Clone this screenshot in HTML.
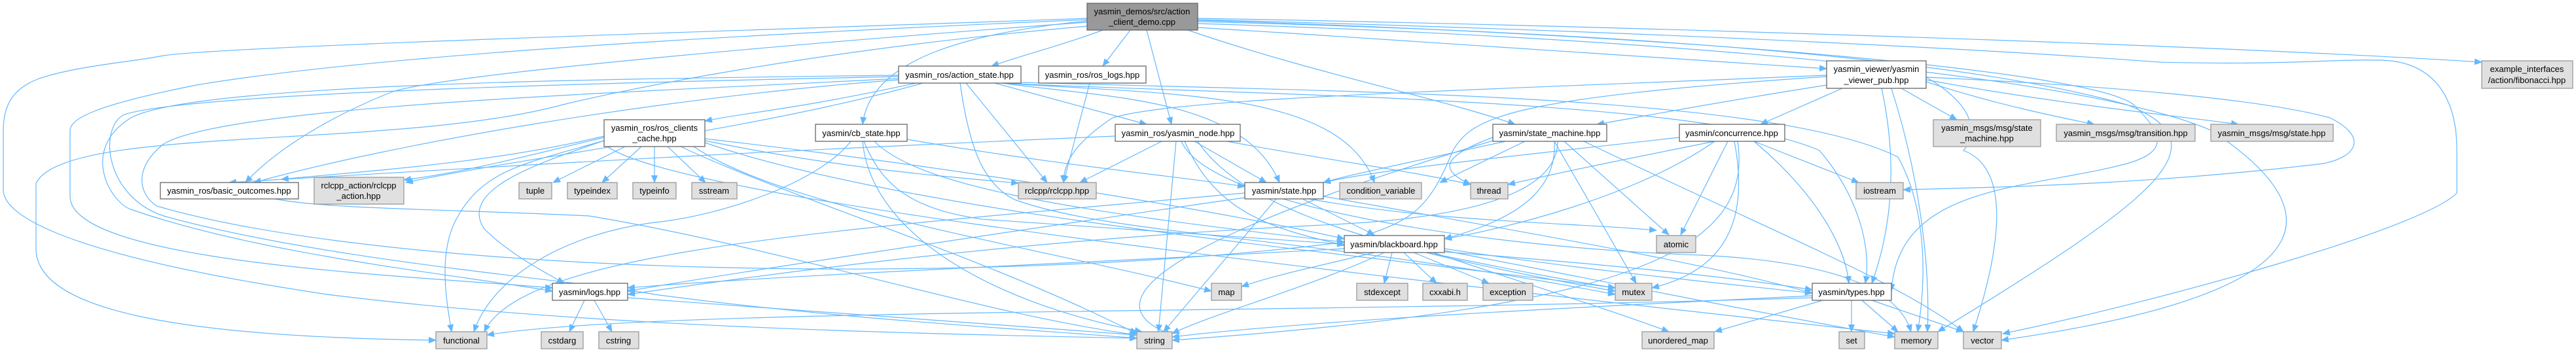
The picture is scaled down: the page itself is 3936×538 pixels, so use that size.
<!DOCTYPE html>
<html><head><meta charset="utf-8"><style>
html,body{margin:0;padding:0;background:#fff;}
svg{display:block;}
text{font-family:"Liberation Sans",sans-serif;font-size:13px;fill:#000;text-anchor:middle;}
.e path{fill:none;stroke:#63b8ff;stroke-width:1.2;}
.n{fill:#fff;stroke:#666;stroke-width:1.3;}
.s{fill:#e0e0e0;stroke:#999;stroke-width:1.3;}
.m{fill:#999;stroke:#666;stroke-width:1.3;}
</style></head><body>
<svg width="3936" height="538" viewBox="0 0 3936 538" xmlns="http://www.w3.org/2000/svg">
<defs><marker id="a" markerWidth="12" markerHeight="10" refX="11" refY="5" orient="auto" markerUnits="userSpaceOnUse"><path d="M0,0 L12,5 L0,10 z" fill="#63b8ff"/></marker></defs>
<g class="e">
<path d="M1685,46 C1620,70 1560,85 1515,101" marker-end="url(#a)"/>
<path d="M1727,46 L1685,101" marker-end="url(#a)"/>
<path d="M1752,46 L1790,190" marker-end="url(#a)"/>
<path d="M1661,32 C1480,50 1330,90 1318,190" marker-end="url(#a)"/>
<path d="M1815,46 C2000,110 2200,150 2315,190" marker-end="url(#a)"/>
<path d="M1830,42 C2200,65 2600,90 2791,105" marker-end="url(#a)"/>
<path d="M1830,28 C2500,40 3400,70 3792,95" marker-end="url(#a)"/>
<path d="M1830,30 C2600,50 3100,80 3300,95 C3500,100 3560,90 3640,92 C3720,95 3754,150 3754,230 L3754,295 C3700,350 3300,460 3060,510" marker-end="url(#a)"/>
<path d="M1830,33 C2500,50 3000,90 3250,160 C3400,220 3300,300 2961,507" marker-end="url(#a)"/>
<path d="M1830,36 C2600,60 3200,120 3380,200 C3530,300 3620,440 3058,520" marker-end="url(#a)"/>
<path d="M1830,31 C2600,55 3200,110 3260,160 C3300,200 3320,230 3250,250 C3100,290 2900,280 2890,445" marker-end="url(#a)"/>
<path d="M2943,118 C3200,130 3450,150 3560,180 C3620,210 3600,240 3550,250 C3300,280 3100,285 2908,290" marker-end="url(#a)"/>
<path d="M1661,28 C1200,45 350,70 250,85 C200,95 120,100 60,120 C20,135 5,160 5,200 L5,290 C5,330 100,390 500,450 C900,500 1400,510 1737,517" marker-end="url(#a)"/>
<path d="M1661,30 C1200,50 600,80 300,130 C150,160 107,180 107,200 L107,300 C107,400 600,420 844,440" marker-end="url(#a)"/>
<path d="M1661,34 C1300,60 700,110 600,140 C500,180 420,230 375,279" marker-end="url(#a)"/>
<path d="M1661,40 C1200,80 900,150 860,160 C600,230 100,190 55,280 L55,380 C55,480 300,515 666,520" marker-end="url(#a)"/>
<path d="M1373,115 C1000,120 300,125 200,180 C120,230 170,310 200,320 C400,390 700,420 844,445" marker-end="url(#a)"/>
<path d="M1373,117 C1000,125 300,140 190,175 C150,195 160,300 250,330 C500,400 900,430 1000,450 C1300,490 1600,505 1737,517" marker-end="url(#a)"/>
<path d="M1373,120 C1000,140 350,160 250,220 C200,260 215,300 240,315 C600,420 1500,440 2054,370" marker-end="url(#a)"/>
<path d="M1373,122 C1000,150 600,220 388,279" marker-end="url(#a)"/>
<path d="M1400,127 C1200,170 1150,170 1077,185" marker-end="url(#a)"/>
<path d="M1410,127 C1150,200 800,240 620,279" marker-end="url(#a)"/>
<path d="M1476,127 L1600,279" marker-end="url(#a)"/>
<path d="M1520,127 L1752,190" marker-end="url(#a)"/>
<path d="M1530,127 C1700,150 1900,150 1955,279" marker-end="url(#a)"/>
<path d="M1530,127 C1800,145 2050,140 2100,279" marker-end="url(#a)"/>
<path d="M1530,127 C1900,145 2600,150 2780,230 C2840,300 2860,380 2850,433" marker-end="url(#a)"/>
<path d="M1530,125 C2000,140 2700,140 2900,240 C2950,330 2940,450 2930,507" marker-end="url(#a)"/>
<path d="M1467,127 C1480,220 1500,280 1550,305 C1700,360 2000,360 2468,450" marker-end="url(#a)"/>
<path d="M1665,127 L1625,279" marker-end="url(#a)"/>
<path d="M955,224 L845,279" marker-end="url(#a)"/>
<path d="M980,224 L920,279" marker-end="url(#a)"/>
<path d="M1000,224 L1000,279" marker-end="url(#a)"/>
<path d="M1020,224 L1078,279" marker-end="url(#a)"/>
<path d="M923,210 C800,240 700,265 617,275" marker-end="url(#a)"/>
<path d="M1077,215 C1300,260 1450,270 1556,280" marker-end="url(#a)"/>
<path d="M923,215 C800,250 740,260 700,330 C670,380 680,450 690,507" marker-end="url(#a)"/>
<path d="M923,215 C820,250 700,290 740,350 C780,390 840,420 862,433" marker-end="url(#a)"/>
<path d="M1060,224 C1200,320 1600,380 1851,445" marker-end="url(#a)"/>
<path d="M1040,224 C1200,300 1500,390 1737,510" marker-end="url(#a)"/>
<path d="M1077,218 C1400,330 2100,390 2468,440" marker-end="url(#a)"/>
<path d="M1077,212 C1500,260 1900,330 2054,365" marker-end="url(#a)"/>
<path d="M923,220 C1000,290 1700,380 2895,510" marker-end="url(#a)"/>
<path d="M923,208 C750,250 550,262 430,274" marker-end="url(#a)"/>
<path d="M420,304 C500,320 700,320 900,330 C1200,380 1500,480 1737,512" marker-end="url(#a)"/>
<path d="M1386,213 C1600,250 1800,270 1902,285" marker-end="url(#a)"/>
<path d="M1300,216 C1250,280 1100,330 1000,340 C850,360 750,430 724,507" marker-end="url(#a)"/>
<path d="M1318,216 C1330,350 1500,460 1745,507" marker-end="url(#a)"/>
<path d="M1336,216 C1400,280 1600,320 2054,370" marker-end="url(#a)"/>
<path d="M1320,216 C1350,290 1400,320 1500,335 C2000,370 2500,400 2769,443" marker-end="url(#a)"/>
<path d="M1775,216 L1650,279" marker-end="url(#a)"/>
<path d="M1797,216 L1770,507" marker-end="url(#a)"/>
<path d="M1825,216 L1935,279" marker-end="url(#a)"/>
<path d="M1704,208 C1200,230 1000,240 350,279" marker-end="url(#a)"/>
<path d="M1810,216 C1860,330 1950,350 2054,375" marker-end="url(#a)"/>
<path d="M1830,216 C1900,320 2100,380 2468,445" marker-end="url(#a)"/>
<path d="M1875,216 C2000,240 2150,260 2247,282" marker-end="url(#a)"/>
<path d="M1805,216 C1850,320 2300,380 2600,390 C2800,400 2900,440 2920,507" marker-end="url(#a)"/>
<path d="M1950,304 L1778,507" marker-end="url(#a)"/>
<path d="M1990,304 L2100,359" marker-end="url(#a)"/>
<path d="M2000,304 C2200,340 2400,340 2531,352" marker-end="url(#a)"/>
<path d="M1902,302 C1500,360 1100,420 959,445" marker-end="url(#a)"/>
<path d="M1902,295 C1300,350 800,380 740,507" marker-end="url(#a)"/>
<path d="M2022,300 C2300,350 2600,400 2769,448" marker-end="url(#a)"/>
<path d="M2330,216 L2200,279" marker-end="url(#a)"/>
<path d="M2300,216 C2100,260 2050,270 2022,279" marker-end="url(#a)"/>
<path d="M2281,210 C2200,240 2200,260 2247,282" marker-end="url(#a)"/>
<path d="M2375,216 C2380,300 2300,340 2207,365" marker-end="url(#a)"/>
<path d="M2390,216 L2550,359" marker-end="url(#a)"/>
<path d="M2375,216 L2500,433" marker-end="url(#a)"/>
<path d="M2420,216 C2700,350 2900,430 3000,507" marker-end="url(#a)"/>
<path d="M2380,216 C2380,330 2100,340 2000,345 C1500,370 1100,430 959,450" marker-end="url(#a)"/>
<path d="M2281,215 C2000,300 1600,440 1791,512" marker-end="url(#a)"/>
<path d="M2620,216 C2500,240 2400,260 2304,282" marker-end="url(#a)"/>
<path d="M2566,210 C2300,240 2100,260 2022,279" marker-end="url(#a)"/>
<path d="M2640,216 L2568,359" marker-end="url(#a)"/>
<path d="M2680,216 L2840,279" marker-end="url(#a)"/>
<path d="M2650,216 C2670,320 2650,410 2524,440" marker-end="url(#a)"/>
<path d="M2620,216 C2500,300 2300,350 2207,365" marker-end="url(#a)"/>
<path d="M2680,216 C2780,300 2820,380 2825,433" marker-end="url(#a)"/>
<path d="M2655,216 C2680,380 2500,470 1791,520" marker-end="url(#a)"/>
<path d="M2791,130 C2600,160 2500,180 2440,190" marker-end="url(#a)"/>
<path d="M2815,135 L2690,190" marker-end="url(#a)"/>
<path d="M2905,135 L2990,183" marker-end="url(#a)"/>
<path d="M2943,125 C3050,160 3150,180 3200,190" marker-end="url(#a)"/>
<path d="M2943,122 C3150,160 3350,180 3420,190" marker-end="url(#a)"/>
<path d="M2791,115 C2200,140 1800,150 1700,180 C1640,220 1625,250 1625,279" marker-end="url(#a)"/>
<path d="M2875,135 C2900,250 2890,350 2860,433" marker-end="url(#a)"/>
<path d="M2890,135 C2930,260 2950,400 2945,507" marker-end="url(#a)"/>
<path d="M2943,118 C3050,180 3000,230 3000,230 C3080,260 3050,400 3015,507" marker-end="url(#a)"/>
<path d="M2791,117 C2300,150 2250,180 2220,230 C2180,330 2150,340 2054,370" marker-end="url(#a)"/>
<path d="M2127,386 L2115,433" marker-end="url(#a)"/>
<path d="M2145,386 L2195,433" marker-end="url(#a)"/>
<path d="M2160,386 L2275,433" marker-end="url(#a)"/>
<path d="M2180,386 C2300,410 2400,430 2468,440" marker-end="url(#a)"/>
<path d="M2100,386 C2000,410 1950,420 1897,438" marker-end="url(#a)"/>
<path d="M2115,386 C2000,440 1850,480 1791,510" marker-end="url(#a)"/>
<path d="M2190,386 C2350,440 2450,470 2550,507" marker-end="url(#a)"/>
<path d="M2207,380 C2400,410 2600,430 2769,448" marker-end="url(#a)"/>
<path d="M2207,383 C2500,440 2700,480 2895,515" marker-end="url(#a)"/>
<path d="M2054,380 C1700,400 1200,420 959,440" marker-end="url(#a)"/>
<path d="M893,459 L870,507" marker-end="url(#a)"/>
<path d="M908,459 L935,507" marker-end="url(#a)"/>
<path d="M959,455 C1300,480 1600,500 1737,512" marker-end="url(#a)"/>
<path d="M2829,459 L2829,507" marker-end="url(#a)"/>
<path d="M2845,459 L2900,507" marker-end="url(#a)"/>
<path d="M2860,459 L3000,507" marker-end="url(#a)"/>
<path d="M2785,459 L2620,507" marker-end="url(#a)"/>
<path d="M2769,452 C2400,470 2000,490 1791,515" marker-end="url(#a)"/>
<path d="M2769,455 C2000,480 1000,470 744,512" marker-end="url(#a)"/>
</g>
<rect class="m" x="1661" y="5" width="169" height="41"/><text x="1745" y="22">yasmin_demos/src/action</text><text x="1745" y="38">_client_demo.cpp</text>
<rect class="n" x="1373" y="101" width="187" height="26"/><text x="1466" y="119">yasmin_ros/action_state.hpp</text>
<rect class="n" x="1587" y="101" width="164" height="26"/><text x="1669" y="119">yasmin_ros/ros_logs.hpp</text>
<rect class="n" x="2791" y="93" width="152" height="42"/><text x="2867" y="110">yasmin_viewer/yasmin</text><text x="2867" y="127">_viewer_pub.hpp</text>
<rect class="s" x="3792" y="93" width="139" height="42"/><text x="3861" y="110">example_interfaces</text><text x="3861" y="127">/action/fibonacci.hpp</text>
<rect class="n" x="923" y="183" width="154" height="41"/><text x="1000" y="200">yasmin_ros/ros_clients</text><text x="1000" y="216">_cache.hpp</text>
<rect class="n" x="1246" y="190" width="140" height="26"/><text x="1316" y="208">yasmin/cb_state.hpp</text>
<rect class="n" x="1704" y="190" width="191" height="26"/><text x="1800" y="208">yasmin_ros/yasmin_node.hpp</text>
<rect class="n" x="2281" y="190" width="174" height="26"/><text x="2368" y="208">yasmin/state_machine.hpp</text>
<rect class="n" x="2566" y="190" width="161" height="26"/><text x="2646" y="208">yasmin/concurrence.hpp</text>
<rect class="s" x="2954" y="183" width="164" height="41"/><text x="3036" y="200">yasmin_msgs/msg/state</text><text x="3036" y="216">_machine.hpp</text>
<rect class="s" x="3142" y="190" width="212" height="26"/><text x="3248" y="208">yasmin_msgs/msg/transition.hpp</text>
<rect class="s" x="3378" y="190" width="187" height="26"/><text x="3471" y="208">yasmin_msgs/msg/state.hpp</text>
<rect class="n" x="245" y="279" width="211" height="25"/><text x="350" y="296">yasmin_ros/basic_outcomes.hpp</text>
<rect class="s" x="480" y="271" width="137" height="41"/><text x="548" y="288">rclcpp_action/rclcpp</text><text x="548" y="304">_action.hpp</text>
<rect class="s" x="793" y="279" width="50" height="25"/><text x="818" y="296">tuple</text>
<rect class="s" x="867" y="279" width="76" height="25"/><text x="905" y="296">typeindex</text>
<rect class="s" x="967" y="279" width="66" height="25"/><text x="1000" y="296">typeinfo</text>
<rect class="s" x="1057" y="279" width="69" height="25"/><text x="1091" y="296">sstream</text>
<rect class="s" x="1556" y="279" width="119" height="25"/><text x="1615" y="296">rclcpp/rclcpp.hpp</text>
<rect class="n" x="1902" y="279" width="120" height="25"/><text x="1962" y="296">yasmin/state.hpp</text>
<rect class="s" x="2047" y="279" width="125" height="25"/><text x="2110" y="296">condition_variable</text>
<rect class="s" x="2247" y="279" width="57" height="25"/><text x="2275" y="296">thread</text>
<rect class="s" x="2836" y="279" width="72" height="25"/><text x="2872" y="296">iostream</text>
<rect class="n" x="2054" y="360" width="153" height="26"/><text x="2130" y="378">yasmin/blackboard.hpp</text>
<rect class="s" x="2531" y="360" width="60" height="26"/><text x="2561" y="378">atomic</text>
<rect class="n" x="844" y="433" width="115" height="26"/><text x="901" y="451">yasmin/logs.hpp</text>
<rect class="s" x="1851" y="433" width="46" height="26"/><text x="1874" y="451">map</text>
<rect class="s" x="2073" y="433" width="78" height="26"/><text x="2112" y="451">stdexcept</text>
<rect class="s" x="2174" y="433" width="68" height="26"/><text x="2208" y="451">cxxabi.h</text>
<rect class="s" x="2266" y="433" width="76" height="26"/><text x="2304" y="451">exception</text>
<rect class="s" x="2468" y="433" width="56" height="26"/><text x="2496" y="451">mutex</text>
<rect class="n" x="2769" y="433" width="121" height="26"/><text x="2829" y="451">yasmin/types.hpp</text>
<rect class="s" x="666" y="507" width="78" height="26"/><text x="705" y="525">functional</text>
<rect class="s" x="827" y="507" width="64" height="26"/><text x="859" y="525">cstdarg</text>
<rect class="s" x="915" y="507" width="61" height="26"/><text x="945" y="525">cstring</text>
<rect class="s" x="1737" y="507" width="54" height="26"/><text x="1764" y="525">string</text>
<rect class="s" x="2509" y="507" width="110" height="26"/><text x="2564" y="525">unordered_map</text>
<rect class="s" x="2810" y="507" width="39" height="26"/><text x="2829" y="525">set</text>
<rect class="s" x="2895" y="507" width="66" height="26"/><text x="2928" y="525">memory</text>
<rect class="s" x="3000" y="507" width="58" height="26"/><text x="3029" y="525">vector</text>
</svg>
</body></html>
